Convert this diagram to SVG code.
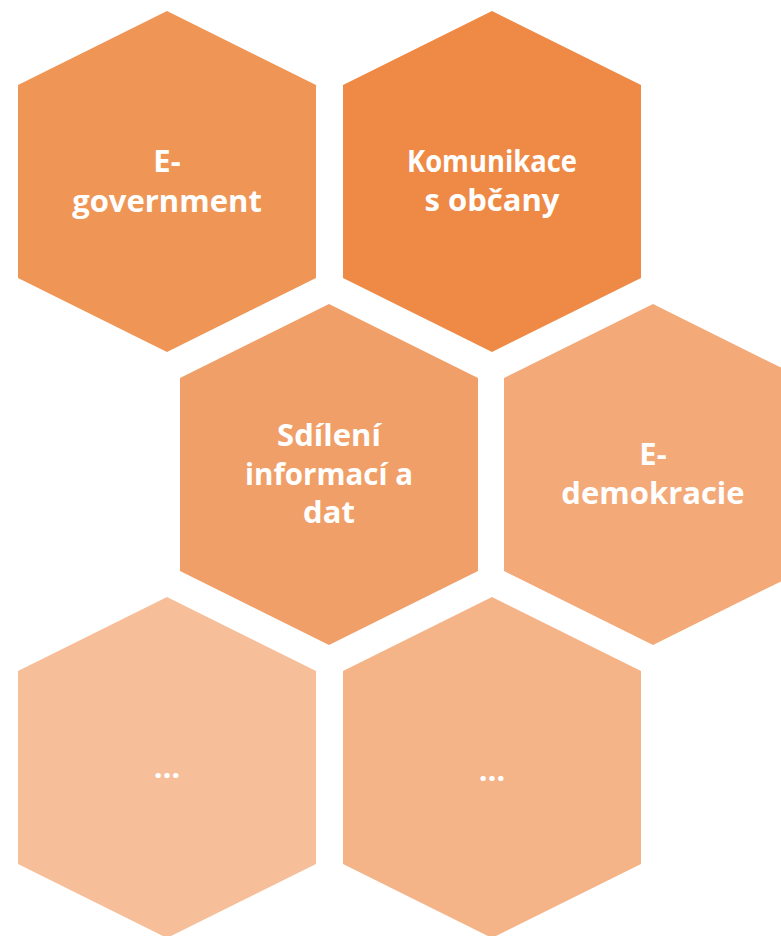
<svg xmlns="http://www.w3.org/2000/svg" width="781" height="936" viewBox="0 0 781 936">
<defs>
<polygon id="hex" points="149,0 298,74 298,267 149,341 0,267 0,74"/>
</defs>
<style>
text{font-family:"Open Sans","Liberation Sans",sans-serif;font-weight:bold;font-size:31px;fill:#ffffff;text-anchor:middle}
</style>
<rect width="781" height="936" fill="#ffffff"/>
<g id="n1"><use href="#hex" x="18" y="11" fill="#EF9656"/><text x="167" y="172">E-</text><text x="167" y="212">government</text></g>
<g id="n2"><use href="#hex" x="343" y="11" fill="#EE8A46"/><text x="492" y="172" textLength="170" lengthAdjust="spacingAndGlyphs">Komunikace</text><text x="492" y="211">s občany</text></g>
<g id="n3"><use href="#hex" x="180" y="304" fill="#F09F68"/><text x="329" y="446">Sdílení</text><text x="329" y="485" textLength="168" lengthAdjust="spacingAndGlyphs">informací a</text><text x="329" y="523">dat</text></g>
<g id="n4"><use href="#hex" x="504" y="304" fill="#F3AA78"/><text x="653" y="465">E-</text><text x="653" y="504">demokracie</text></g>
<g id="n5"><use href="#hex" x="18" y="597" fill="#F6BE99"/><text x="167" y="778">…</text></g>
<g id="n6"><use href="#hex" x="343" y="597" fill="#F4B488"/><text x="492" y="781">…</text></g>
<g id="connectors"/>
</svg>
